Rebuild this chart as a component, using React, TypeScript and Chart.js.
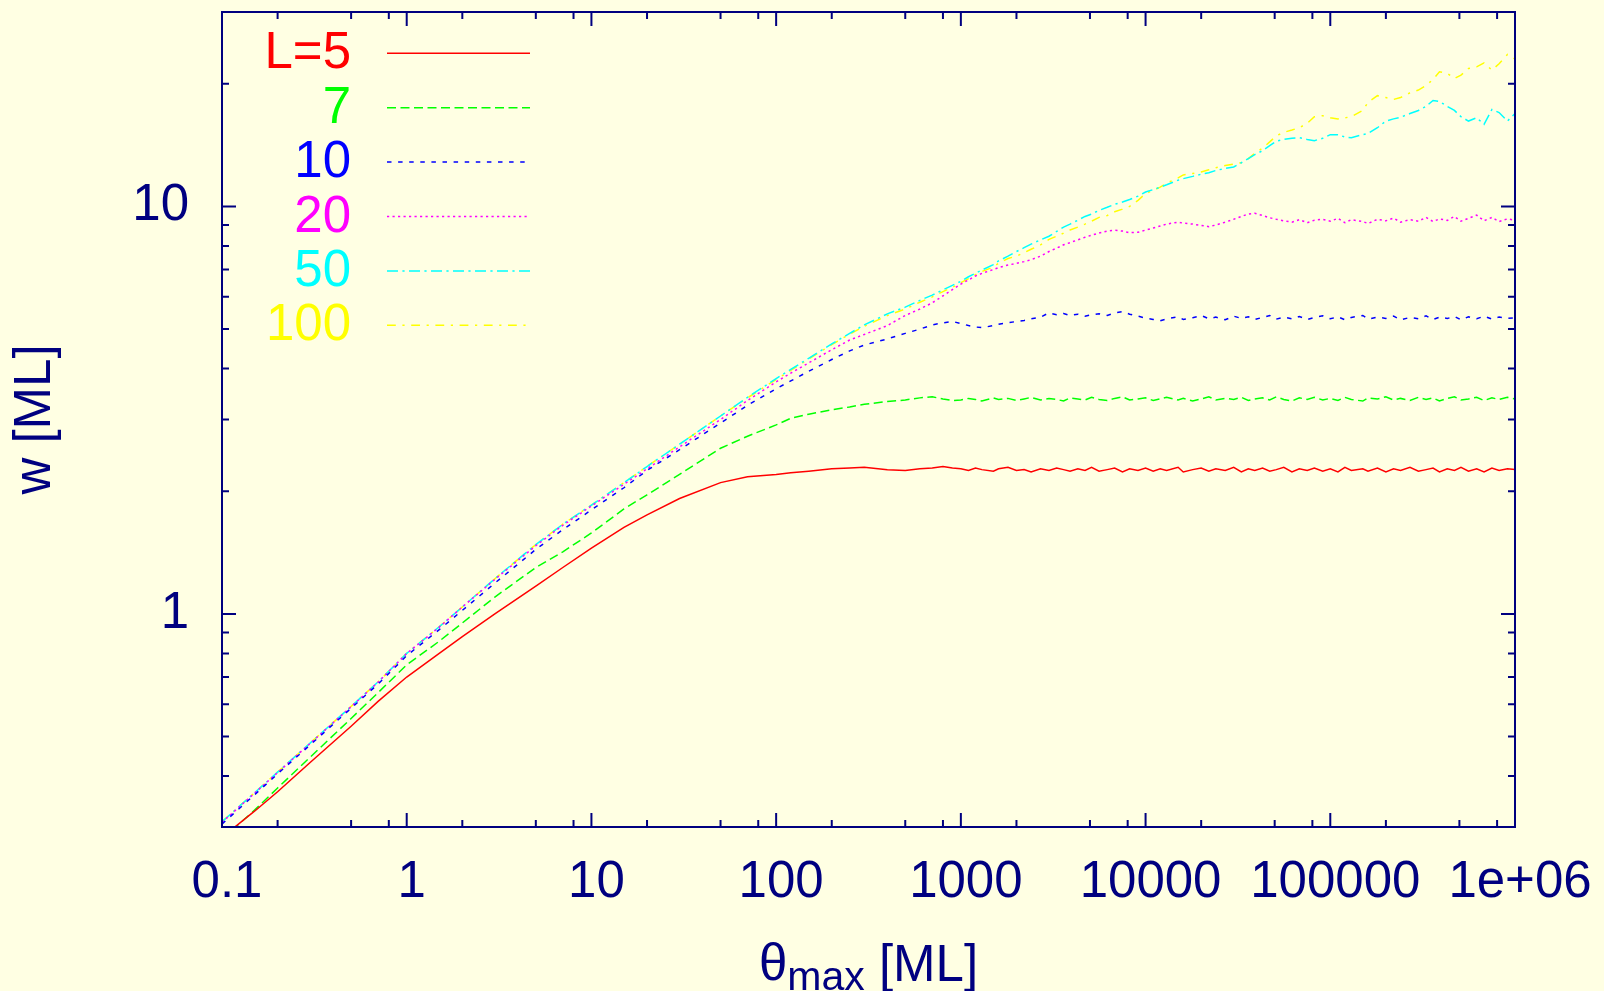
import React, { useEffect, useRef } from "react";
import { Chart, registerables } from "chart.js";

Chart.register(...registerables);

// ---------- data ----------
const thetaMax = [
  0.1, 0.15, 0.2, 0.3, 0.5, 0.7, 1, 1.5, 2, 3, 5, 7, 10, 15, 20, 30, 50, 70,
  100, 120, 150, 200, 250, 300, 400, 500, 600, 700, 800, 900,
  1000, 1100, 1200, 1300, 1500, 1600, 1800, 2000, 2200, 2400, 2700, 3000,
  3300, 3600, 3900, 4300, 4700, 5100, 5600, 6200, 6800, 7500, 8200, 9100,
  10000, 11000, 12000, 13000, 15000, 16000, 18000, 20000, 22000, 24000, 27000, 30000,
  33000, 36000, 39000, 43000, 47000, 51000, 56000, 62000, 68000, 75000, 82000, 91000,
  100000, 110000, 120000, 130000, 150000, 160000, 180000, 200000, 220000, 240000, 270000, 300000,
  330000, 360000, 390000, 430000, 470000, 510000, 560000, 620000, 680000, 750000, 820000, 910000,
  1000000,
];

const wL5 = [
  0.283, 0.328, 0.366, 0.432, 0.53, 0.61, 0.7, 0.8, 0.88, 1.0, 1.17, 1.3, 1.45, 1.63, 1.75, 1.92, 2.1, 2.17,
  2.2, 2.22, 2.24, 2.27, 2.28, 2.29, 2.26, 2.25, 2.27, 2.28, 2.3, 2.28,
  2.27, 2.25, 2.28, 2.26, 2.24, 2.27, 2.29, 2.25, 2.26, 2.23, 2.27, 2.25,
  2.28, 2.26, 2.24, 2.27, 2.25, 2.29, 2.24, 2.26, 2.28, 2.23, 2.27, 2.25,
  2.28, 2.24, 2.27, 2.25, 2.29, 2.23, 2.26, 2.28, 2.24, 2.27, 2.25, 2.29,
  2.23, 2.27, 2.25, 2.28, 2.24, 2.26, 2.29, 2.23, 2.27, 2.25, 2.28, 2.24,
  2.27, 2.23, 2.29, 2.25, 2.27, 2.24, 2.28, 2.23, 2.27, 2.25, 2.29, 2.24,
  2.26, 2.28, 2.23, 2.27, 2.25, 2.29, 2.24, 2.27, 2.23, 2.28, 2.25, 2.27,
  2.26,
];

const wL7 = [
  0.28, 0.33, 0.374, 0.445, 0.554, 0.641, 0.75, 0.857, 0.95, 1.1, 1.3, 1.42, 1.58, 1.81, 1.96, 2.2, 2.55, 2.73,
  2.91, 3.02, 3.09, 3.17, 3.22, 3.27, 3.32, 3.35, 3.39, 3.41, 3.37, 3.34,
  3.35, 3.38, 3.36, 3.33, 3.39, 3.36, 3.38, 3.34, 3.37, 3.4, 3.35, 3.38,
  3.36, 3.33, 3.39, 3.37, 3.35, 3.4, 3.36, 3.34, 3.38, 3.41, 3.35, 3.37,
  3.39, 3.34, 3.37, 3.4, 3.35, 3.38, 3.33, 3.37, 3.41, 3.35, 3.38, 3.36,
  3.4, 3.34, 3.37, 3.39, 3.35, 3.41, 3.36, 3.33, 3.39, 3.36, 3.4, 3.35,
  3.38, 3.34, 3.4, 3.36, 3.33, 3.39, 3.37, 3.41, 3.35, 3.38, 3.34, 3.4,
  3.36, 3.39, 3.33, 3.38, 3.41, 3.35, 3.37, 3.4, 3.34, 3.39, 3.36, 3.4,
  3.37,
];

const wL10 = [
  0.305, 0.36, 0.405, 0.477, 0.587, 0.673, 0.79, 0.915, 1.02, 1.19, 1.44, 1.61, 1.8, 2.04, 2.25, 2.53, 2.94, 3.25,
  3.57, 3.73, 3.94, 4.21, 4.42, 4.57, 4.73, 4.88, 5.0, 5.12, 5.18, 5.22,
  5.16, 5.1, 5.06, 5.04, 5.1, 5.14, 5.18, 5.22, 5.25, 5.3, 5.35, 5.48,
  5.42, 5.46, 5.4, 5.44, 5.38, 5.42, 5.45, 5.4, 5.48, 5.52, 5.44, 5.38,
  5.32, 5.28, 5.24, 5.3, 5.36, 5.28, 5.33, 5.4, 5.3, 5.35, 5.27, 5.38,
  5.31, 5.36, 5.28, 5.34, 5.4, 5.29, 5.35, 5.3, 5.37, 5.28, 5.34, 5.39,
  5.3, 5.36, 5.27, 5.34, 5.4, 5.29, 5.35, 5.31, 5.38, 5.27, 5.34, 5.3,
  5.39, 5.28, 5.35, 5.31, 5.37, 5.27, 5.36, 5.3, 5.38, 5.29, 5.35, 5.31,
  5.33,
];

const wL20 = [
  0.308, 0.363, 0.408, 0.481, 0.592, 0.68, 0.8, 0.928, 1.04, 1.215, 1.47, 1.65, 1.84, 2.08, 2.27, 2.57, 3.0, 3.34,
  3.71, 3.9, 4.13, 4.45, 4.7, 4.85, 5.1, 5.4, 5.6, 5.8, 6.03, 6.25,
  6.45, 6.6, 6.75, 6.85, 7.0, 7.08, 7.18, 7.25, 7.32, 7.4, 7.55, 7.75,
  7.9, 8.05, 8.15, 8.28, 8.4, 8.5, 8.6, 8.7, 8.74, 8.7, 8.62, 8.64,
  8.75, 8.85, 8.95, 9.05, 9.15, 9.1, 9.05, 8.98, 8.92, 9.0, 9.15, 9.3,
  9.45, 9.58, 9.62, 9.5, 9.38, 9.3, 9.22, 9.15, 9.28, 9.12, 9.25, 9.3,
  9.2, 9.35, 9.12, 9.28, 9.18, 9.08, 9.3, 9.22, 9.36, 9.15, 9.28, 9.2,
  9.4, 9.18, 9.32, 9.24, 9.45, 9.2, 9.35, 9.52, 9.22, 9.4, 9.18, 9.32,
  9.25,
];

const wL50 = [
  0.309, 0.364, 0.409, 0.482, 0.593, 0.681, 0.8, 0.93, 1.04, 1.22, 1.48, 1.66, 1.85, 2.1, 2.3, 2.61, 3.06, 3.4,
  3.78, 3.98, 4.24, 4.6, 4.88, 5.12, 5.45, 5.66, 5.88, 6.06, 6.24, 6.4,
  6.55, 6.72, 6.85, 6.98, 7.2, 7.35, 7.55, 7.75, 7.92, 8.08, 8.28, 8.45,
  8.68, 8.9, 9.05, 9.25, 9.45, 9.58, 9.78, 9.95, 10.12, 10.25, 10.4, 10.6,
  10.85, 11.0, 11.15, 11.3, 11.6, 11.7, 11.85, 12.0, 12.1, 12.25, 12.4, 12.5,
  12.8, 13.1, 13.4, 13.7, 14.1, 14.45, 14.6, 14.7, 14.75, 14.6, 14.5, 14.7,
  15.0, 15.0, 14.8, 14.75, 15.0, 15.1, 15.6, 16.2, 16.4, 16.55, 16.9, 17.2,
  17.6, 18.2, 18.1, 17.6, 17.2, 16.6, 16.2, 16.5, 15.9, 17.3, 17.0, 16.2,
  16.9,
];

const wL100 = [
  0.309, 0.364, 0.409, 0.482, 0.593, 0.681, 0.8, 0.93, 1.04, 1.22, 1.48, 1.66, 1.85, 2.1, 2.3, 2.61, 3.06, 3.39,
  3.76, 3.96, 4.22, 4.58, 4.86, 5.08, 5.4, 5.6, 5.82, 6.0, 6.18, 6.33,
  6.5, 6.65, 6.8, 6.92, 7.1, 7.25, 7.45, 7.55, 7.7, 7.85, 8.05, 8.3,
  8.45, 8.6, 8.75, 8.9, 9.05, 9.2, 9.4, 9.5, 9.7, 9.85, 10.0, 10.35,
  10.75, 10.95, 11.15, 11.4, 11.75, 11.95, 12.05, 12.15, 12.3, 12.45, 12.6, 12.7,
  12.8, 13.1, 13.5, 13.9, 14.4, 14.9, 15.2, 15.4, 15.6, 16.0, 16.6, 16.7,
  16.5, 16.4, 16.5, 16.6, 17.2, 18.0, 18.7, 18.5, 18.3, 18.5, 19.0, 19.3,
  19.8, 20.5, 21.4, 21.2, 20.6, 21.0, 21.8, 22.0, 22.5, 21.6, 22.4, 23.6,
  23.0,
];

const seriesValues = [wL5, wL7, wL10, wL20, wL50, wL100];
const seriesLabels = ["L=5", "7", "10", "20", "50", "100"];

const xMajorTicks = [0.1, 1, 10, 100, 1000, 10000, 100000, 1000000];
const xTickLabels = ["0.1", "1", "10", "100", "1000", "10000", "100000", "1e+06"];
const xMinorTicks = [
  0.2, 0.5, 0.8, 2, 5, 8, 20, 50, 80, 200, 500, 800,
  2000, 5000, 8000, 20000, 50000, 80000, 200000, 500000, 800000,
];
const yMajorTicks = [1, 10];
const yTickLabels = ["1", "10"];
const yMinorTicks = [0.3, 0.4, 0.5, 0.6, 0.7, 0.8, 0.9, 2, 3, 4, 5, 6, 7, 8, 9, 20, 30];

// ---------- styles ----------
const seriesColors = ["#ff0000", "#00ff00", "#0000ff", "#ff00ff", "#00ffff", "#ffff00"];
const seriesDashes = [
  [],
  [9, 4.5],
  [4.5, 6.6],
  [2.2, 3.3],
  [11, 4.4, 2.2, 4.4],
  [8.8, 6.6, 2.2, 6.6],
];
const NAVY = "#000080";
const BG = "#ffffe3";
const FONT = '"Liberation Sans", Arial, Helvetica, sans-serif';
const FS = 51;

const isMajor = (v: number) => Math.abs(Math.log10(v) - Math.round(Math.log10(v))) < 1e-9;

const zeroPadding = (s: any) => {
  s.paddingLeft = 0;
  s.paddingRight = 0;
  s.paddingTop = 0;
  s.paddingBottom = 0;
};

const gnuplotDecor = {
  id: "gnuplotDecor",
  afterDraw(chart: any) {
    const { ctx, chartArea: a, scales } = chart;
    const xs = scales.x;
    const ys = scales.y;
    ctx.save();
    // frame
    ctx.strokeStyle = NAVY;
    ctx.lineWidth = 2;
    ctx.setLineDash([]);
    ctx.strokeRect(a.left, a.top, a.right - a.left, a.bottom - a.top);
    // inward ticks, mirrored on all four sides
    ctx.beginPath();
    for (const t of xs.ticks) {
      const px = xs.getPixelForValue(t.value);
      const len = isMajor(t.value) ? 14 : 7;
      ctx.moveTo(px, a.bottom);
      ctx.lineTo(px, a.bottom - len);
      ctx.moveTo(px, a.top);
      ctx.lineTo(px, a.top + len);
    }
    for (const t of ys.ticks) {
      const py = ys.getPixelForValue(t.value);
      const len = isMajor(t.value) ? 14 : 7;
      ctx.moveTo(a.left, py);
      ctx.lineTo(a.left + len, py);
      ctx.moveTo(a.right, py);
      ctx.lineTo(a.right - len, py);
    }
    ctx.stroke();

    // key (legend) in gnuplot style
    chart.data.datasets.forEach((ds: any, i: number) => {
      const y = 53.3 + i * 54.4;
      ctx.fillStyle = ds.borderColor;
      ctx.font = `${FS}px ${FONT}`;
      ctx.textAlign = "right";
      ctx.textBaseline = "middle";
      ctx.fillText(ds.label, 351, y + 1);
      ctx.strokeStyle = ds.borderColor;
      ctx.lineWidth = 1.5;
      ctx.setLineDash(ds.borderDash || []);
      ctx.beginPath();
      ctx.moveTo(387, y);
      ctx.lineTo(530, y);
      ctx.stroke();
    });
    ctx.setLineDash([]);

    // y title
    ctx.fillStyle = NAVY;
    ctx.font = `${FS}px ${FONT}`;
    ctx.save();
    ctx.translate(50, 419.5);
    ctx.rotate(-Math.PI / 2);
    ctx.textAlign = "center";
    ctx.textBaseline = "alphabetic";
    ctx.fillText("w [ML]", 0, 0);
    ctx.restore();

    // x title: θ_max [ML]
    ctx.textAlign = "left";
    ctx.textBaseline = "alphabetic";
    const mainFont = `${FS}px ${FONT}`;
    const subFont = `41px ${FONT}`;
    ctx.font = mainFont;
    const wTheta = ctx.measureText("θ").width;
    const wRest = ctx.measureText(" [ML]").width;
    ctx.font = subFont;
    const wSub = ctx.measureText("max").width;
    const total = wTheta + wSub + wRest;
    let x0 = (a.left + a.right) / 2 - total / 2;
    ctx.font = mainFont;
    ctx.fillText("θ", x0, 980);
    x0 += wTheta;
    ctx.font = subFont;
    ctx.fillText("max", x0, 990);
    x0 += wSub;
    ctx.font = mainFont;
    ctx.fillText(" [ML]", x0, 981);
    ctx.restore();
  },
};

export default function App() {
  const ref = useRef<HTMLCanvasElement | null>(null);

  useEffect(() => {
    if (!ref.current) return;
    const datasets = seriesValues.map((vals, i) => ({
      label: seriesLabels[i],
      data: thetaMax.map((x, j) => ({ x, y: vals[j] })),
      borderColor: seriesColors[i],
      backgroundColor: seriesColors[i],
      borderWidth: 1.5,
      borderDash: seriesDashes[i],
      pointRadius: 0,
      fill: false,
      tension: 0,
    }));

    const chart = new Chart(ref.current, {
      type: "line",
      data: { datasets },
      options: {
        animation: false,
        responsive: false,
        devicePixelRatio: 1,
        events: [],
        layout: { padding: { top: 12, right: 89, left: 0, bottom: 0 } },
        plugins: {
          legend: { display: false },
          tooltip: { enabled: false },
          title: { display: false },
        },
        scales: {
          x: {
            type: "logarithmic",
            position: "bottom",
            min: 0.1,
            max: 1000000,
            grid: { display: false, drawTicks: false },
            border: { display: false },
            afterBuildTicks: (s: any) => {
              s.ticks = [...xMajorTicks, ...xMinorTicks].sort((p, q) => p - q).map((v) => ({ value: v }));
            },
            afterFit: (s: any) => {
              s.height = 164;
              zeroPadding(s);
            },
            ticks: {
              autoSkip: false,
              maxRotation: 0,
              minRotation: 0,
              padding: 25,
              labelOffset: 5,
              color: NAVY,
              font: { family: FONT, size: FS },
              callback: (v: any) => {
                const i = xMajorTicks.indexOf(Number(v));
                return i >= 0 ? xTickLabels[i] : "";
              },
            },
          },
          y: {
            type: "logarithmic",
            position: "left",
            min: 0.3,
            max: 30,
            grid: { display: false, drawTicks: false },
            border: { display: false },
            afterBuildTicks: (s: any) => {
              s.ticks = [...yMajorTicks, ...yMinorTicks].sort((p, q) => p - q).map((v) => ({ value: v }));
            },
            afterFit: (s: any) => {
              s.width = 222;
              zeroPadding(s);
            },
            ticks: {
              autoSkip: false,
              padding: 33,
              color: NAVY,
              font: { family: FONT, size: FS },
              callback: (v: any) => {
                const i = yMajorTicks.indexOf(Number(v));
                return i >= 0 ? yTickLabels[i] : "";
              },
            },
          },
        },
      },
      plugins: [gnuplotDecor],
    } as any);

    return () => chart.destroy();
  }, []);

  return (
    <div
      style={{
        position: "absolute",
        left: 0,
        top: 0,
        width: 1604,
        height: 991,
        background: BG,
        overflow: "hidden",
      }}
    >
      <canvas ref={ref} width={1604} height={991} style={{ display: "block" }} />
    </div>
  );
}
